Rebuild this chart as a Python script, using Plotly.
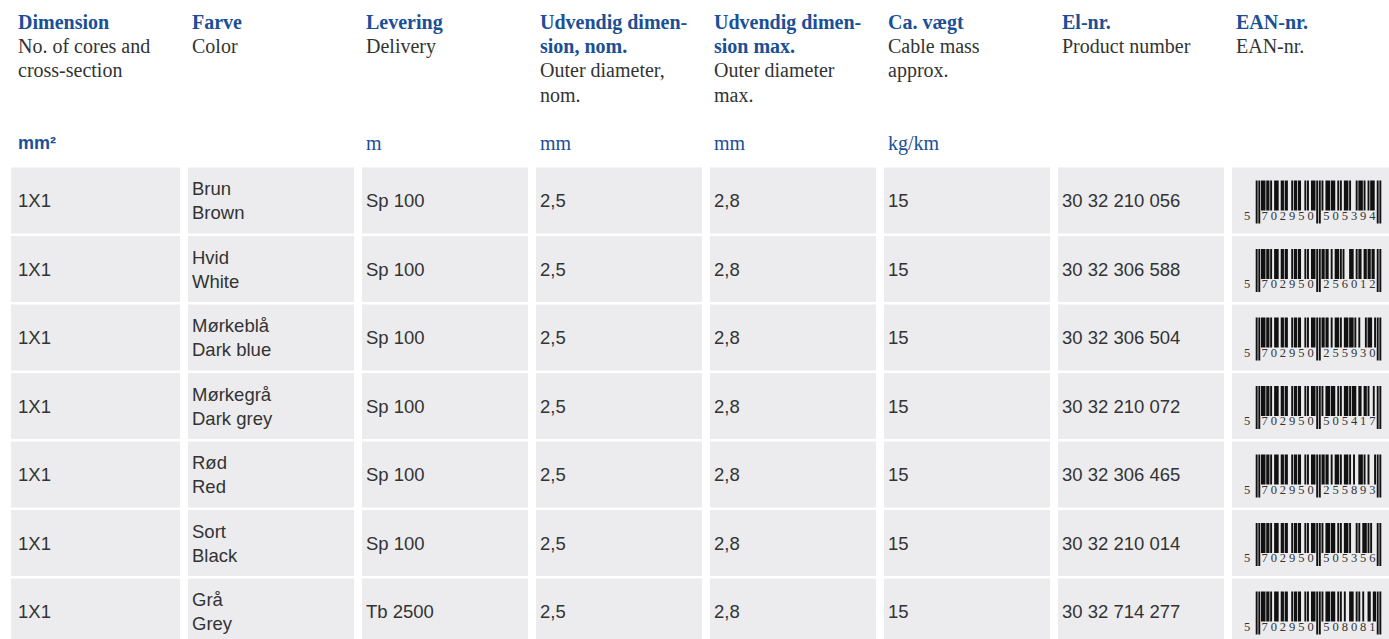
import plotly.graph_objects as go

# ---------------- data ----------------
header_bold = [["Dimension"], ["Farve"], ["Levering"],
               ["Udvendig dimen-", "sion, nom."], ["Udvendig dimen-", "sion max."],
               ["Ca. vægt"], ["El-nr."], ["EAN-nr."]]
header_sub = [["No. of cores and", "cross-section"], ["Color"], ["Delivery"],
              ["Outer diameter,", "nom."], ["Outer diameter", "max."],
              ["Cable mass", "approx."], ["Product number"], ["EAN-nr."]]
units = ["mm²", "", "m", "mm", "mm", "kg/km", "", ""]

dimension = ["1X1", "1X1", "1X1", "1X1", "1X1", "1X1", "1X1"]
farve_da = ["Brun", "Hvid", "Mørkeblå", "Mørkegrå", "Rød", "Sort", "Grå"]
farve_en = ["Brown", "White", "Dark blue", "Dark grey", "Red", "Black", "Grey"]
levering = ["Sp 100", "Sp 100", "Sp 100", "Sp 100", "Sp 100", "Sp 100", "Tb 2500"]
od_nom = ["2,5", "2,5", "2,5", "2,5", "2,5", "2,5", "2,5"]
od_max = ["2,8", "2,8", "2,8", "2,8", "2,8", "2,8", "2,8"]
weight = ["15", "15", "15", "15", "15", "15", "15"]
el_nr = ["30 32 210 056", "30 32 306 588", "30 32 306 504", "30 32 210 072",
         "30 32 306 465", "30 32 210 014", "30 32 714 277"]
ean = ["5702950505394", "5702950256012", "5702950255930", "5702950505417",
       "5702950255893", "5702950505356", "5702950508081"]

# ---------------- style ----------------
W, H = 1389, 639
BLUE = "#1a5096"
DARK = "#333333"
CELL = "#ececee"
SERIF = "Liberation Serif"
SANS = "Liberation Sans"
col_text_x = [16, 190, 364, 538, 712, 886, 1060, 1234]
col_cell_x0 = [11, 188, 362, 536, 710, 884, 1058, 1232]
col_cell_x1 = [180, 354, 528, 702, 876, 1050, 1224, 1389]
row_c0, row_pitch, cell_h = 200.5, 68.5, 66

# ---------------- EAN-13 encoding ----------------
L = ["0001101", "0011001", "0010011", "0111101", "0100011",
     "0110001", "0101111", "0111011", "0110111", "0001011"]
G = ["0100111", "0110011", "0011011", "0100001", "0011101",
     "0111001", "0000101", "0010001", "0001001", "0010111"]
R = ["".join("1" if b == "0" else "0" for b in s) for s in L]
PAR = ["LLLLLL", "LLGLGG", "LLGGLG", "LLGGGL", "LGLLGG",
       "LGGLLG", "LGGGLL", "LGLGLG", "LGLGGL", "LGGLGL"]


def ean_modules(code):
    d = [int(c) for c in code]
    p = PAR[d[0]]
    s = "101"
    for i in range(6):
        s += (L if p[i] == "L" else G)[d[1 + i]]
    s += "01010"
    for i in range(6):
        s += R[d[7 + i]]
    s += "101"
    return s


GUARD = set(list(range(0, 3)) + list(range(45, 50)) + list(range(92, 95)))

fig = go.Figure()
shapes = []
ann = []


def text(x, y, t, font, size, color, bold=False):
    ann.append(dict(x=x, y=y, xref="x", yref="y", text=("<b>%s</b>" % t) if bold else t,
                    showarrow=False, xanchor="left", yanchor="middle",
                    font=dict(family=font, size=size, color=color)))


# headers
line_y = [22, 46, 70, 94.5]
for c in range(8):
    k = 0
    for t in header_bold[c]:
        text(col_text_x[c], line_y[k], t, SERIF, 20, BLUE, bold=True)
        k += 1
    for t in header_sub[c]:
        text(col_text_x[c], line_y[k], t, SERIF, 20, DARK)
        k += 1
    if units[c]:
        if c == 0:
            text(col_text_x[c], 143, units[c], SANS, 18, BLUE, bold=True)
        else:
            text(col_text_x[c], 143, units[c], SERIF, 20, BLUE)

# body
n = len(dimension)
mod_w = 125 / 95
spread = 0.3
dig_x, dig_y = [], []
dig_t = []
for r in range(n):
    cy = row_c0 + r * row_pitch
    for c in range(8):
        shapes.append(dict(type="rect", xref="x", yref="y", layer="below",
                           x0=col_cell_x0[c], x1=col_cell_x1[c],
                           y0=cy - cell_h / 2, y1=cy + cell_h / 2,
                           fillcolor=CELL, line=dict(width=0)))
    single = [dimension[r], None, levering[r], od_nom[r], od_max[r], weight[r], el_nr[r]]
    for c, t in enumerate(single):
        if t is not None:
            text(col_text_x[c], cy, t, SANS, 18.5, DARK)
    text(col_text_x[1], cy - 12, farve_da[r], SANS, 18.5, DARK)
    text(col_text_x[1], cy + 12, farve_en[r], SANS, 18.5, DARK)

    # barcode
    x0 = col_cell_x0[7] + 24
    mods = ean_modules(ean[r])
    i = 0
    while i < 95:
        if mods[i] == "1":
            j = i
            g = i in GUARD
            while j < 95 and mods[j] == "1" and ((j in GUARD) == g):
                j += 1
            shapes.append(dict(type="rect", xref="x", yref="y",
                               x0=x0 + i * mod_w - spread, x1=x0 + j * mod_w + spread,
                               y0=cy - 20, y1=cy + (23 if g else 10),
                               fillcolor="#111111", line=dict(width=0)))
            i = j
        else:
            i += 1
    code = ean[r]
    dig_x.append(x0 - 9)
    dig_y.append(cy + 16)
    dig_t.append(code[0])
    for k in range(6):
        dig_x.append(x0 + (3 + 7 * k + 3.5) * mod_w)
        dig_y.append(cy + 16)
        dig_t.append(code[1 + k])
    for k in range(6):
        dig_x.append(x0 + (50 + 7 * k + 3.5) * mod_w)
        dig_y.append(cy + 16)
        dig_t.append(code[7 + k])

fig.add_trace(go.Scatter(x=dig_x, y=dig_y, text=dig_t, mode="text",
                         textfont=dict(family=SERIF, size=12.5, color=DARK),
                         hoverinfo="skip", showlegend=False))

fig.update_layout(width=W, height=H, margin=dict(l=0, r=0, t=0, b=0),
                  paper_bgcolor="white", plot_bgcolor="white",
                  shapes=shapes, annotations=ann, showlegend=False,
                  xaxis=dict(range=[0, W], visible=False, fixedrange=True),
                  yaxis=dict(range=[H, 0], visible=False, fixedrange=True))
fig.write_html("out.html", config={"displayModeBar": False},
               post_script="document.body.style.margin='0';document.body.style.overflow='hidden';")
